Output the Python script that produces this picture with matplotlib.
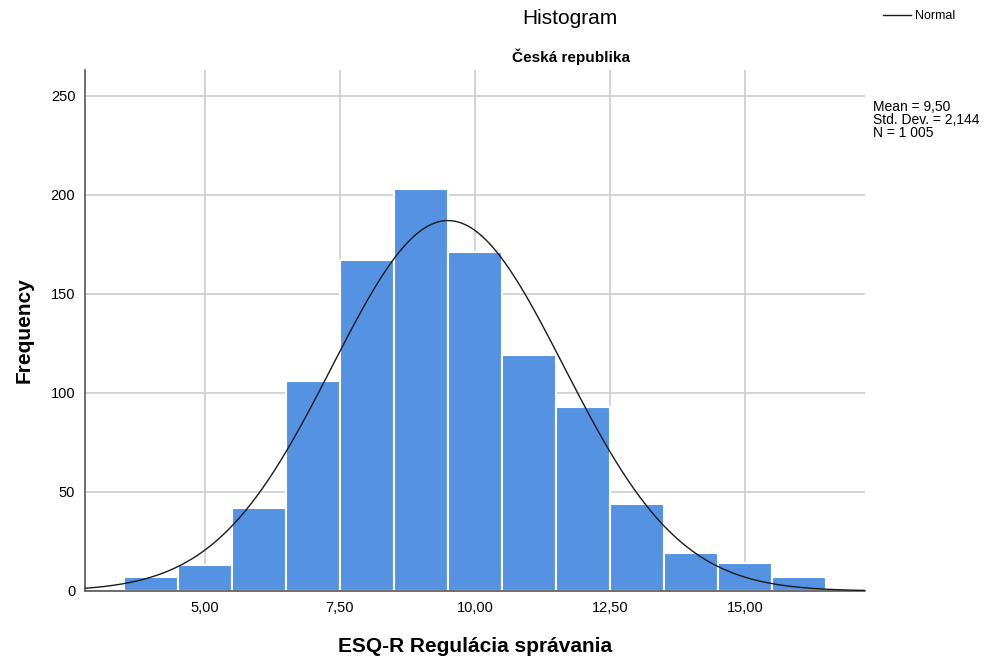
import numpy as np
import matplotlib.pyplot as plt

# histogram counts (bin centers 4..16, width 1)
centers = [4, 5, 6, 7, 8, 9, 10, 11, 12, 13, 14, 15, 16]
counts = [7, 13, 42, 106, 167, 203, 171, 119, 93, 44, 19, 14, 7]
mean = 9.50
sd = 2.144
n = 1005
xticks = [5, 7.5, 10, 12.5, 15]
xtick_labels = ['5,00', '7,50', '10,00', '12,50', '15,00']
yticks = [0, 50, 100, 150, 200, 250]

plt.rcParams['font.family'] = ['Liberation Sans', 'DejaVu Sans']

fig = plt.figure(figsize=(9.91, 6.61), dpi=100)
ax = fig.add_axes([85 / 991, 70 / 661, 780 / 991, 521 / 661])

ax.bar(centers, counts, width=1.0, color='#5593E2', edgecolor='white', linewidth=1.5, zorder=2)

xs = np.linspace(2.78, 17.22, 400)
ys = n * 1.0 / (sd * np.sqrt(2 * np.pi)) * np.exp(-0.5 * ((xs - mean) / sd) ** 2)
line, = ax.plot(xs, ys, color='#1a1a1a', linewidth=1.0, zorder=3)

ax.set_xlim(2.78, 17.22)
ax.set_ylim(0, 263)
ax.set_xticks(xticks)
ax.set_xticklabels(xtick_labels)
ax.set_yticks(yticks)
ax.tick_params(length=0, labelsize=10.5, pad=7)
ax.grid(True, color='#cccccc', linewidth=1.2, zorder=0)
ax.set_axisbelow(True)
for s in ['top', 'right']:
    ax.spines[s].set_visible(False)
for s in ['left', 'bottom']:
    ax.spines[s].set_color('#555555')
    ax.spines[s].set_linewidth(1.2)

fig.text(475 / 991, 1 - 647 / 661, 'ESQ-R Regulácia správania', ha='center', va='center',
         fontsize=15, fontweight='bold')
fig.text(24 / 991, 1 - 330 / 661, 'Frequency', ha='center', va='center', rotation=90,
         fontsize=15, fontweight='bold')

fig.text(570 / 991, 1 - 18 / 661, 'Histogram', ha='center', va='center', fontsize=15, fontweight='medium')
fig.text(571 / 991, 1 - 57 / 661, 'Česká republika', ha='center', va='center', fontsize=11, fontweight='bold')

fig.legend([line], ['Normal'], loc='center left', bbox_to_anchor=(877 / 991, 1 - 16 / 661),
           frameon=False, handlelength=2.2, handletextpad=0.3, borderpad=0, prop={'size': 9})

fig.text(873 / 991, 1 - 120 / 661, 'Mean = 9,50\nStd. Dev. = 2,144\nN = 1 005', ha='left', va='center',
         fontsize=10, linespacing=0.95)

fig.savefig('out.png', dpi=100)
